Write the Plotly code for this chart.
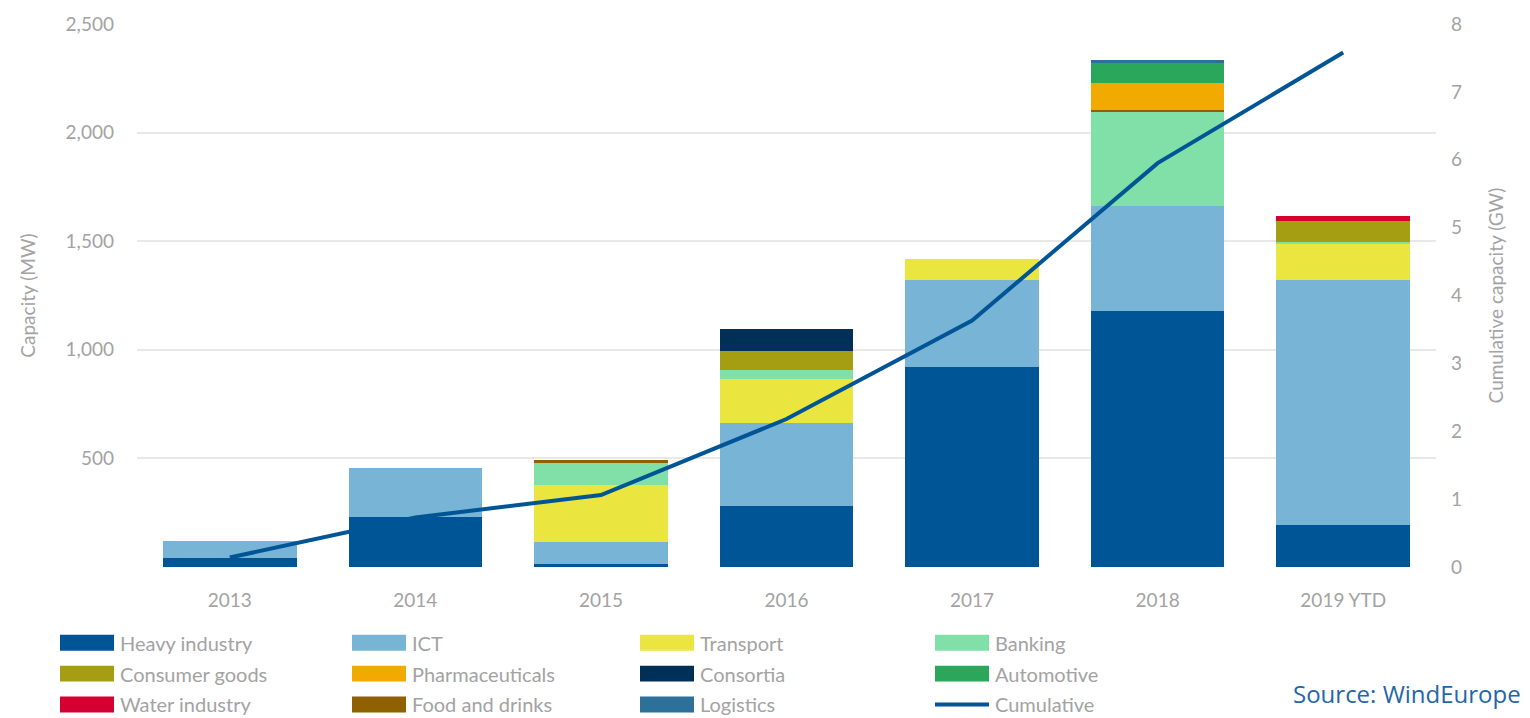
import plotly.graph_objects as go

years = ["2013", "2014", "2015", "2016", "2017", "2018", "2019 YTD"]

heavy_industry = [43, 228, 14, 280, 923, 1179, 193]
ict = [76, 227, 102, 384, 397, 481, 1127]
transport = [0, 0, 260, 200, 100, 0, 168]
banking = [0, 0, 104, 43, 0, 433, 9]
food_and_drinks = [0, 0, 14, 0, 0, 11, 0]
consumer_goods = [0, 0, 0, 88, 0, 0, 95]
pharmaceuticals = [0, 0, 0, 0, 0, 125, 0]
consortia = [0, 0, 0, 103, 0, 0, 0]
automotive = [0, 0, 0, 0, 0, 93, 0]
water_industry = [0, 0, 0, 0, 0, 0, 26]
logistics = [0, 0, 0, 0, 0, 11, 0]
cumulative_gw = [0.14, 0.73, 1.06, 2.18, 3.63, 5.95, 7.58]

y_ticks = [0, 500, 1000, 1500, 2000, 2500]
y_ticktext = ["", "500", "1,000", "1,500", "2,000", "2,500"]
y2_ticks = [0, 1, 2, 3, 4, 5, 6, 7, 8]

series = [
    ("Heavy industry", heavy_industry, "#005596"),
    ("ICT", ict, "#77b4d6"),
    ("Transport", transport, "#ebe53f"),
    ("Banking", banking, "#80e0a7"),
    ("Food and drinks", food_and_drinks, "#8f6100"),
    ("Consumer goods", consumer_goods, "#a59d12"),
    ("Pharmaceuticals", pharmaceuticals, "#f2a900"),
    ("Consortia", consortia, "#003057"),
    ("Automotive", automotive, "#2aa75b"),
    ("Water industry", water_industry, "#d50032"),
    ("Logistics", logistics, "#2d7099"),
]
line_color = "#005596"

legend_rows = [
    ["Heavy industry", "ICT", "Transport", "Banking"],
    ["Consumer goods", "Pharmaceuticals", "Consortia", "Automotive"],
    ["Water industry", "Food and drinks", "Logistics", "Cumulative"],
]

FONT = "Lato"
GREY = "#a3a3a3"

fig = go.Figure()
for name, vals, col in series:
    fig.add_trace(go.Bar(x=years, y=vals, name=name, marker=dict(color=col, line=dict(width=0)),
                         showlegend=False))
fig.add_trace(go.Scatter(x=years, y=cumulative_gw, name="Cumulative", yaxis="y2", mode="lines",
                         line=dict(color=line_color, width=4), showlegend=False))

W, H = 1530, 718
L, R, T, B = 137, 94, 22, 151
pw, ph = W - L - R, H - T - B


def xp(px):
    return (px - L) / pw


def yp(py):
    return (H - B - py) / ph


colors = {n: c for n, _, c in series}
colors["Cumulative"] = line_color
col_x = [60, 352, 640, 935]
row_y = [643, 674, 705]
shapes = []
annotations = []
for r, row in enumerate(legend_rows):
    for c, name in enumerate(row):
        x0 = col_x[c]
        yc = row_y[r]
        if name == "Cumulative":
            shapes.append(dict(type="line", xref="paper", yref="paper", x0=xp(x0), x1=xp(x0 + 54),
                               y0=yp(yc), y1=yp(yc), line=dict(color=colors[name], width=4)))
        else:
            shapes.append(dict(type="rect", xref="paper", yref="paper", x0=xp(x0), x1=xp(x0 + 54),
                               y0=yp(yc + 8), y1=yp(yc - 8), fillcolor=colors[name],
                               line=dict(width=0)))
        annotations.append(dict(text=name, xref="paper", yref="paper", x=xp(x0 + 58), y=yp(yc),
                                xanchor="left", yanchor="middle", showarrow=False,
                                font=dict(family=FONT, size=20, color=GREY)))

annotations.append(dict(text="Source: WindEurope", xref="paper", yref="paper", x=xp(1523), y=yp(694),
                        xanchor="right", yanchor="middle", showarrow=False,
                        font=dict(family="Open Sans", size=24, color="#2466a6")))

fig.update_layout(
    width=W, height=H,
    margin=dict(l=L, r=R, t=T, b=B),
    barmode="stack",
    bargap=0.28,
    plot_bgcolor="white",
    paper_bgcolor="white",
    font=dict(family=FONT, color=GREY),
    xaxis=dict(showgrid=False, showline=False, ticks="", tickfont=dict(size=19, color=GREY),
               ticklabelstandoff=20),
    yaxis=dict(range=[0, 2500], tickvals=y_ticks, ticktext=y_ticktext, showgrid=True,
               gridcolor="#e8e8e8", gridwidth=1.5, zeroline=False, showline=False, ticks="",
               tickfont=dict(size=19, color=GREY), ticklabelstandoff=22,
               title=dict(text="Capacity (MW)", font=dict(size=19, color=GREY), standoff=24)),
    yaxis2=dict(range=[0, 8], tickvals=y2_ticks, overlaying="y", side="right", showgrid=False,
                zeroline=False, showline=False, ticks="", tickfont=dict(size=19, color=GREY),
                ticklabelstandoff=14,
                title=dict(text="Cumulative capacity (GW)", font=dict(size=19, color=GREY), standoff=28)),
    shapes=shapes,
    annotations=annotations,
    showlegend=False,
)

fig.write_html("out.html", config={"displayModeBar": False},
               post_script="document.body.style.margin='0px';document.body.style.overflow='hidden';")
